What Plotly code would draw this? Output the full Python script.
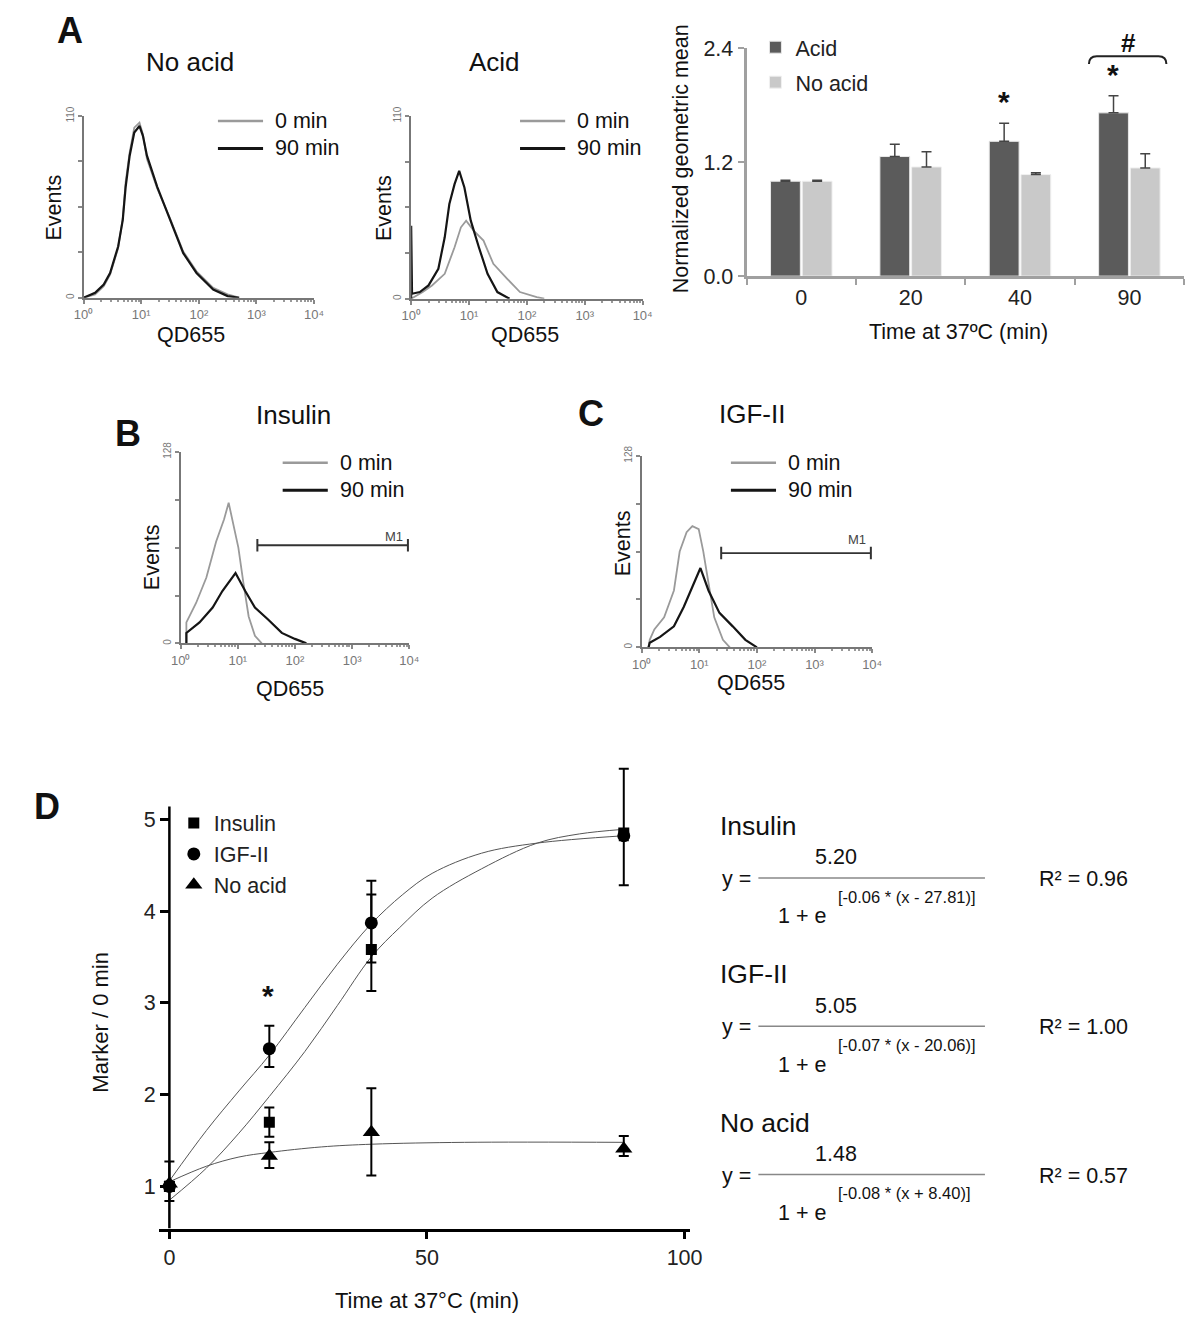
import numpy as np
import plotly.graph_objects as go

W, H = 1200, 1330
FONT = "Liberation Sans, Arial, sans-serif"
GRAY = "#9a9a9a"
BLACK = "#151515"

# ---- A: flow histograms, x in decades of QD655 (10^log), y = events
a_noacid_0_log = [0.0, 0.2, 0.35, 0.46, 0.6, 0.68, 0.73, 0.8, 0.88, 0.97, 1.03, 1.1, 1.28, 1.5, 1.73, 1.96, 2.25, 2.5, 2.7]
a_noacid_0 = [0, 2, 7, 14, 30, 48, 70, 88, 103, 106, 99, 84, 66, 48, 28, 16, 6, 2, 0]
a_noacid_90_log = [0.0, 0.2, 0.35, 0.46, 0.6, 0.68, 0.73, 0.8, 0.88, 0.97, 1.03, 1.1, 1.28, 1.5, 1.73, 1.96, 2.25, 2.5, 2.7]
a_noacid_90 = [0, 3, 8, 15, 31, 47, 67, 86, 100, 104, 98, 86, 67, 47, 27, 15, 5, 1, 0]

a_acid_0_log = [0.0, 0.2, 0.36, 0.58, 0.75, 0.86, 0.95, 1.08, 1.25, 1.42, 1.66, 1.88, 2.17, 2.3]
a_acid_0 = [0, 4, 8, 15, 31, 43, 47, 41, 35, 21, 12, 4, 1, 0]
a_acid_90_log = [0.0, 0.0, 0.015, 0.15, 0.3, 0.47, 0.58, 0.66, 0.75, 0.83, 0.92, 1.03, 1.17, 1.32, 1.49, 1.7]
a_acid_90 = [0, 44, 3, 4, 8, 18, 37, 57, 69, 77, 67, 47, 31, 15, 4, 0]

# ---- A: bar chart
bar_times = ["0", "20", "40", "90"]
acid_mean = [1.0, 1.26, 1.42, 1.72]
acid_err = [0.01, 0.13, 0.19, 0.18]
noacid_mean = [1.0, 1.15, 1.07, 1.14]
noacid_err = [0.01, 0.16, 0.02, 0.15]

# ---- B / C histograms
b_ins_0_log = [0.1, 0.1, 0.27, 0.45, 0.62, 0.76, 0.84, 0.93, 1.01, 1.1, 1.19, 1.3, 1.42]
b_ins_0 = [0, 14, 27, 44, 68, 83, 94, 79, 64, 40, 18, 5, 0]
b_ins_90_log = [0.1, 0.1, 0.33, 0.56, 0.73, 0.9, 0.96, 1.13, 1.3, 1.53, 1.77, 2.0, 2.2]
b_ins_90 = [0, 7, 14, 24, 35, 44, 47, 35, 24, 16, 7, 3, 0]
b_m1_x = [22, 9500]
b_m1_y = 65.6

c_igf_0_log = [0.12, 0.14, 0.22, 0.39, 0.56, 0.66, 0.78, 0.88, 0.99, 1.07, 1.16, 1.26, 1.41, 1.53]
c_igf_0 = [0, 5, 12, 20, 38, 64, 77, 81, 79, 64, 43, 20, 5, 0]
c_igf_90_log = [0.12, 0.14, 0.32, 0.56, 0.73, 0.9, 1.02, 1.16, 1.35, 1.58, 1.8, 2.0]
c_igf_90 = [0, 3, 7, 14, 27, 43, 53, 38, 23, 14, 5, 0]
c_m1_x = [24, 9500]
c_m1_y = 63

# ---- D: marker / 0 min vs time
d_time = [0, 19.4, 39.2, 88.2]
ins_val = [1.0, 1.70, 3.58, 4.85]
ins_up = [0.05, 0.16, 0.60, 0.70]
ins_dn = [0.05, 0.16, 0.45, 0.57]
igf_val = [1.0, 2.50, 3.87, 4.82]
igf_up = [0.05, 0.25, 0.46, 0.05]
igf_dn = [0.05, 0.20, 0.43, 0.05]
na_val = [1.03, 1.33, 1.59, 1.41]
na_up = [0.24, 0.15, 0.48, 0.14]
na_dn = [0.19, 0.13, 0.47, 0.08]

# fitted curves
igf_fit_x = [0, 7.2, 13.5, 19.4, 26.3, 32.6, 39.0, 45.3, 51.0, 60.6, 71.4, 88.2]
igf_fit_y = [1.06, 1.61, 2.04, 2.43, 2.95, 3.42, 3.85, 4.18, 4.41, 4.63, 4.74, 4.82]
ins_fit_x = [0, 7.2, 13.5, 19.4, 26.3, 32.6, 39.2, 44.7, 51.0, 60.6, 71.4, 79.6, 88.2]
ins_fit_y = [0.85, 1.20, 1.58, 1.98, 2.47, 2.97, 3.50, 3.82, 4.14, 4.46, 4.74, 4.84, 4.89]
na_fit_x = [0, 7.2, 13.5, 19.4, 29.5, 39.4, 57.3, 88.2]
na_fit_y = [1.05, 1.22, 1.32, 1.37, 1.43, 1.46, 1.48, 1.48]

# equation panel
eq_names = ["Insulin", "IGF-II", "No acid"]
eq_num = ["5.20", "5.05", "1.48"]
eq_exp = ["[-0.06 * (x - 27.81)]", "[-0.07 * (x - 20.06)]", "[-0.08 * (x + 8.40)]"]
eq_r2 = ["0.96", "1.00", "0.57"]

FS = 21.5  # main label size used across panels


def px(x):
    return x / W


def py(y):
    return 1 - y / H


annotations = []
shapes = []


def label(text, x, y, size, bold=False, angle=0, xanchor="center", color="#111"):
    annotations.append(dict(
        text=f"<b>{text}</b>" if bold else text, x=px(x), y=py(y),
        xref="paper", yref="paper", showarrow=False, textangle=angle,
        xanchor=xanchor, yanchor="middle",
        font=dict(size=size, color=color, family=FONT)))


def hline(x0, x1, y, color, width):
    shapes.append(dict(type="line", xref="paper", yref="paper",
                       x0=px(x0), x1=px(x1), y0=py(y), y1=py(y),
                       line=dict(color=color, width=width)))


fig = go.Figure()


def hist_axes(n, x0, x1, ytop, ybot, ymax):
    xk = "xaxis" if n == 1 else f"xaxis{n}"
    yk = "yaxis" if n == 1 else f"yaxis{n}"
    ya = "y" if n == 1 else f"y{n}"
    xa = "x" if n == 1 else f"x{n}"
    fig.update_layout(**{
        xk: dict(domain=[px(x0), px(x1)], anchor=ya, type="log", range=[0, 4],
                 tickvals=[1, 10, 100, 1000, 10000],
                 ticktext=["10⁰", "10¹", "10²", "10³", "10⁴"],
                 ticks="outside", ticklen=4, tickcolor="#888", tickwidth=1.5,
                 minor=dict(ticks="outside", ticklen=2, tickcolor="#999", dtick="D1"),
                 showline=True, linecolor="#777", linewidth=2, showgrid=False,
                 zeroline=False, tickfont=dict(size=13, color="#777", family=FONT)),
        yk: dict(domain=[py(ybot), py(ytop)], anchor=xa, range=[0, ymax],
                 tickvals=[0, ymax / 4, ymax / 2, 3 * ymax / 4, ymax],
                 ticktext=["0", "", "", "", str(ymax)], tickangle=-90,
                 ticks="outside", ticklen=4, tickcolor="#888", tickwidth=1.5,
                 showline=True, linecolor="#777", linewidth=2, showgrid=False,
                 zeroline=False, tickfont=dict(size=10, color="#777", family=FONT)),
    })


def hist_trace(n, logs, vals, color, width):
    xa = "x" if n == 1 else f"x{n}"
    ya = "y" if n == 1 else f"y{n}"
    fig.add_trace(go.Scatter(x=10 ** np.array(logs), y=vals, mode="lines",
                             line=dict(color=color, width=width),
                             xaxis=xa, yaxis=ya, showlegend=False, hoverinfo="skip"))


# A histograms
hist_axes(1, 75, 310, 107, 292, 110)
hist_trace(1, a_noacid_0_log, a_noacid_0, GRAY, 1.8)
hist_trace(1, a_noacid_90_log, a_noacid_90, BLACK, 2.2)
hist_axes(2, 409, 645, 107, 293, 110)
hist_trace(2, a_acid_0_log, a_acid_0, GRAY, 1.8)
hist_trace(2, a_acid_90_log, a_acid_90, BLACK, 2.2)

# B, C histograms
hist_axes(4, 174, 407, 449, 644, 128)
hist_trace(4, b_ins_0_log, b_ins_0, GRAY, 1.8)
hist_trace(4, b_ins_90_log, b_ins_90, BLACK, 2.2)
hist_axes(5, 644, 879, 453, 648, 128)
hist_trace(5, c_igf_0_log, c_igf_0, GRAY, 1.8)
hist_trace(5, c_igf_90_log, c_igf_90, BLACK, 2.2)

for n, mx, my in [(4, b_m1_x, b_m1_y), (5, c_m1_x, c_m1_y)]:
    fig.add_trace(go.Scatter(x=mx, y=[my, my], mode="lines+markers",
                             line=dict(color="#333", width=1.8),
                             marker=dict(symbol="line-ns-open", size=9,
                                         line=dict(width=2, color="#333")),
                             xaxis=f"x{n}", yaxis=f"y{n}", showlegend=False))
label("M1", 391, 535, 13, color="#444")
label("M1", 864, 538, 13, color="#444")

# histogram legends, titles and axis labels
for lx, ly in [(212, 112), (520, 112), (278, 460), (735, 460)]:
    hline(lx, lx + 46, ly, GRAY, 2.5)
    hline(lx, lx + 46, ly + 28, BLACK, 3)
    label("0 min", lx + 56, ly, FS, xanchor="left")
    label("90 min", lx + 56, ly + 28, FS, xanchor="left")

label("No acid", 184, 52, 26)
label("Acid", 494, 52, 26)
label("Insulin", 289, 411, 26)
label("IGF-II", 756, 410, 26)
for ex, ey in [(45, 200), (382, 201), (145, 556), (625, 542)]:
    label("Events", ex, ey, FS, angle=-90)
for qx, qy in [(185, 330), (525, 330), (285, 690), (755, 684)]:
    label("QD655", qx, qy, FS)

label("A", 61, 20, 36, bold=True)
label("B", 120, 430, 36, bold=True)
label("C", 592, 410, 36, bold=True)
label("D", 38, 810, 36, bold=True)

# A bar chart
fig.add_trace(go.Bar(x=bar_times, y=acid_mean, name="Acid", marker_color="#5b5b5b",
                     marker_line=dict(color="#e8e8e8", width=1),
                     error_y=dict(type="data", symmetric=False, array=acid_err,
                                  arrayminus=[0] * 4, color="#444", thickness=1.5, width=5),
                     xaxis="x3", yaxis="y3", legend="legend", legendgroup="acid"))
fig.add_trace(go.Bar(x=bar_times, y=noacid_mean, name="No acid", marker_color="#c9c9c9",
                     marker_line=dict(color="#f0f0f0", width=1),
                     error_y=dict(type="data", symmetric=False, array=noacid_err,
                                  arrayminus=[0] * 4, color="#444", thickness=1.5, width=5),
                     xaxis="x3", yaxis="y3", legend="legend", legendgroup="noacid"))
fig.update_layout(
    xaxis3=dict(domain=[px(751), px(1197)], anchor="y3", type="category",
                tickson="boundaries", ticks="outside", ticklen=6, tickwidth=2,
                tickcolor="#a0a0a0", showline=True, linecolor="#a0a0a0", linewidth=3,
                showgrid=False, tickfont=dict(size=FS, color="#222", family=FONT)),
    yaxis3=dict(domain=[py(270), py(38)], anchor="x3", range=[0, 2.4],
                tickvals=[0, 1.2, 2.4], ticktext=["0.0", "1.2", "2.4"],
                ticks="outside", ticklen=6, tickwidth=2, tickcolor="#a0a0a0",
                showline=True, linecolor="#a0a0a0", linewidth=3, showgrid=False,
                zeroline=False, tickfont=dict(size=FS, color="#222", family=FONT)),
    bargap=0.42, bargroupgap=0.06,
)
label("Time at 37ºC (min)", 967, 327, FS)
label("Normalized geometric mean", 684, 150, FS, angle=-90)
label("*", 1013, 92, 30, bold=True)
label("*", 1125, 65, 30, bold=True)
label("#", 1140, 33, 26, bold=True)
shapes.append(dict(type="path", xref="paper", yref="paper",
                   path=(f"M {px(1100)},{py(54)} Q {px(1100)},{py(46)} {px(1108)},{py(46)} "
                         f"L {px(1171)},{py(46)} Q {px(1179)},{py(46)} {px(1179)},{py(54)}"),
                   line=dict(color="#222", width=2)))

# D
for fx, fy in [(ins_fit_x, ins_fit_y), (igf_fit_x, igf_fit_y), (na_fit_x, na_fit_y)]:
    fig.add_trace(go.Scatter(x=fx, y=fy, mode="lines", line=dict(color="#555", width=1, shape="spline"),
                             xaxis="x6", yaxis="y6", showlegend=False, hoverinfo="skip"))
for name, vals, up, dn, sym, size in [
    ("Insulin", ins_val, ins_up, ins_dn, "square", 11),
    ("IGF-II", igf_val, igf_up, igf_dn, "circle", 13),
    ("No acid", na_val, na_up, na_dn, "triangle-up", 15),
]:
    fig.add_trace(go.Scatter(x=d_time, y=vals, mode="markers", name=name,
                             marker=dict(symbol=sym, size=size, color="black"),
                             error_y=dict(type="data", symmetric=False, array=up, arrayminus=dn,
                                          color="black", thickness=2, width=5),
                             xaxis="x6", yaxis="y6", legend="legend2"))

fig.update_layout(
    xaxis6=dict(domain=[px(152), px(693)], anchor="y6", range=[-2, 101],
                tickvals=[0, 50, 100], ticks="outside", ticklen=8, tickwidth=2.5,
                tickcolor="black", showline=True, linecolor="black", linewidth=2.5,
                showgrid=False, zeroline=False,
                tickfont=dict(size=FS, color="#222", family=FONT)),
    yaxis6=dict(domain=[py(1240), py(767)], anchor="free", position=px(162),
                range=[0.54, 5.6], tickvals=[1, 2, 3, 4, 5], ticks="outside",
                ticklen=9, tickwidth=2.5, tickcolor="black", showline=False,
                showgrid=False, zeroline=False,
                tickfont=dict(size=FS, color="#222", family=FONT)),
)
shapes.append(dict(type="line", xref="x6", yref="y6", x0=0, x1=0, y0=0.54, y1=5.14,
                   line=dict(color="black", width=2.5)))
label("*", 263, 1003, 30, bold=True)
label("Marker / 0 min", 92, 1030, 22, angle=-90)
label("Time at 37°C (min)", 425, 1313, 22)

# equations
for i in range(3):
    off = 151 * i
    label(eq_names[i], 722, 830 + off, 26.5, xanchor="left")
    label(eq_num[i], 842, 862 + off, FS)
    label("y =", 724, 884 + off, FS, xanchor="left")
    hline(763, 994, 883 + off, "#888", 1.5)
    label(eq_exp[i], 842, 902 + off, 16.5, xanchor="left")
    label("1 + e", 781, 922 + off, FS, xanchor="left")
    label(f"R² = {eq_r2[i]}", 1047, 884 + off, FS, xanchor="left")

fig.update_layout(
    width=W, height=H, margin=dict(l=0, r=0, t=0, b=0),
    paper_bgcolor="white", plot_bgcolor="white",
    font=dict(family=FONT, color="#111"),
    showlegend=True,
    legend=dict(x=px(760), y=py(16), xanchor="left", yanchor="top",
                font=dict(size=FS, color="#222", family=FONT),
                bgcolor="rgba(0,0,0,0)", tracegroupgap=4, traceorder="grouped"),
    legend2=dict(x=px(167), y=py(806), xanchor="left", yanchor="top",
                 font=dict(size=FS, color="#222", family=FONT),
                 bgcolor="rgba(0,0,0,0)", tracegroupgap=0),
    annotations=annotations, shapes=shapes,
)

fig.write_html("out.html", config={"displayModeBar": False},
               post_script="document.body.style.margin = '0px';")
